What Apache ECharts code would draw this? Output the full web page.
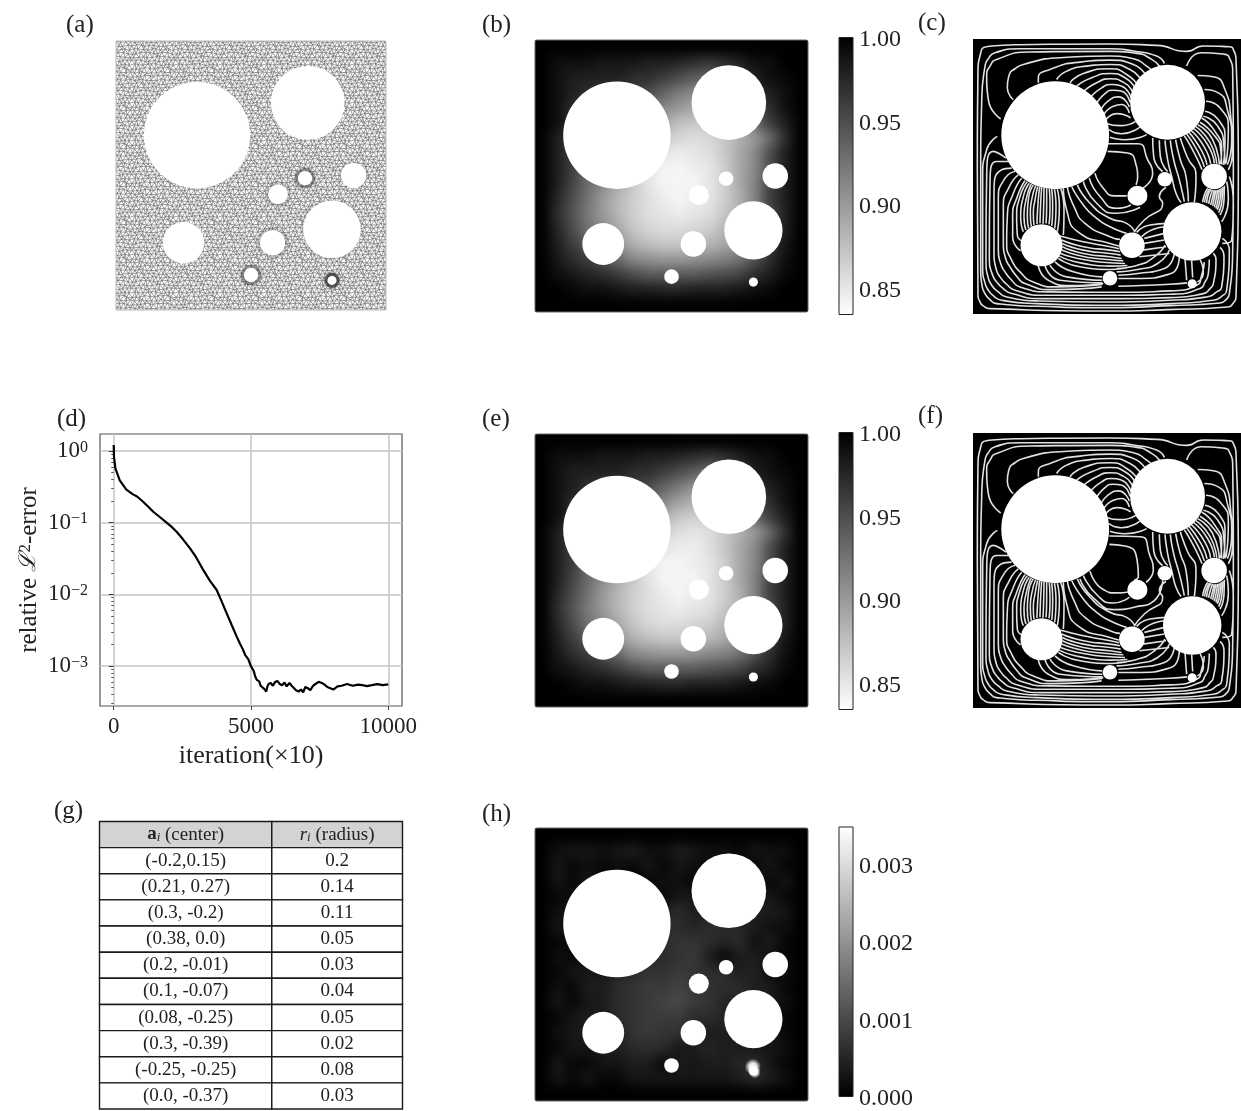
<!DOCTYPE html>
<html><head><meta charset="utf-8">
<style>html,body{margin:0;padding:0;background:#fff;overflow:hidden}#wrap{width:1241px;height:1111px;overflow:hidden;position:relative}#c{width:1270px;height:1111px}</style>
<script src="https://cdn.jsdelivr.net/npm/echarts@6/dist/echarts.min.js"></script>
</head><body><div id="wrap"><div id="c"></div></div>
<script>
// ---- data ----
const tableHeader = ['{b|a}{s|i} (center)', '{i|r}{s|i} (radius)'];
const tableCenters = ['(-0.2,0.15)','(0.21, 0.27)','(0.3, -0.2)','(0.38, 0.0)','(0.2, -0.01)','(0.1, -0.07)','(0.08, -0.25)','(0.3, -0.39)','(-0.25, -0.25)','(0.0, -0.37)'];
const tableRadii = ['0.2','0.14','0.11','0.05','0.03','0.04','0.05','0.02','0.08','0.03'];
const holeX = [-0.2,0.21,0.3,0.38,0.2,0.1,0.08,0.3,-0.25,0.0];
const holeY = [0.15,0.27,-0.2,0.0,-0.01,-0.07,-0.25,-0.39,-0.25,-0.37];
const holeR = [0.2,0.14,0.11,0.05,0.03,0.04,0.05,0.02,0.08,0.03];
const meshRing = [0,0,0.1,0.12,0.6,0.25,0.25,1,0,0.6];
const errIter = [0,10,60,220,460,700,850,1070,1250,1440,1700,1925,2100,2290,2500,2780,3000,3260,3500,3750,3900,4115,4300,4480,4600,4700,4790,4900,4995,5100,5150,5210,5300,5350,5400,5480,5555,5600,5640,5720,5800,5880,5960,6050,6130,6220,6300,6400,6480,6550,6640,6735,6820,6900,6980,7070,7160,7260,7370,7470,7580,7680,7780,7890,8000,8150,8300,8500,8700,8900,9050,9230,9400,9600,9800,10000];
const errVal = [1.21,.83,.57,.39,.29,.248,.232,.196,.168,.142,.118,.1,.088,.0748,.06,.0438,.033,.0219,.0155,.0115,.0085,.00543,.0037,.00257,.00205,.00172,.00142,.00125,.001,.00085,.00072,.00064,.00061,.00053,.000525,.00048,.00044,.00052,.00056,.00058,.00053,.0006,.00062,.00056,.00054,.00059,.00052,.00058,.00053,.00056,.00046,.00044,.00047,.00043,.00051,.00049,.00046,.00053,.00057,.0006,.00058,.00055,.00051,.00049,.00047,.00052,.00053,.00056,.00053,.00055,.00054,.000525,.00054,.00056,.00054,.000555];
const logTicks = [1,0.1,0.01,0.001];
const logMinorTicks = [2,3,4,5,6,7,8,9].map(m=>m/10).concat([.02,.03,.04,.05,.06,.07,.08,.09],[.002,.003,.004,.005,.006,.007,.008,.009],[.0003,.0004,.0005,.0006,.0007,.0008,.0009]);
const iterTicks = [0,5000,10000];
const barTicksU = [0.85,0.90,0.95,1.00];
const barTicksE = [0.000,0.001,0.002,0.003];
// u in hundredths, top row first
const fieldB = [
[100,100,100,100,100,100,100,100,100,100,100,100,100,100,100,100,100,100],
[100,99,99,99,98.5,98.5,98.5,98,98,97.5,97,96.5,97,98,99,99,100,100],
[100,99,98,98,98,98,97,97,96,95,94,93.5,95,96,98,99,99.5,100],
[100,99,98,97,96,96,96,95,93.5,92,91,91,91,93,97,98,99,100],
[100,99,97,96,95,94,94,93,91,90,89,89,90,92,95,97,99,100],
[100,99,97,95,94,92,92,91,89,87.5,87,87,87.5,90,93,96,98,100],
[100,98,96,94,92,91,89,88,87,86,85.5,86,87,88.5,90,93,97,100],
[100,98,96,94,91,90,88,86,85,84.5,85,85.5,87,89,91,95,98,100],
[100,98,96,93,91,89,87,85,84,84,84.5,85,86.5,89,91,95,98,100],
[100,98,95.5,93,91,89,87,85,84,84,84,85,86.5,89,91.5,95.5,98,100],
[100,97.5,95,92.5,90,88,86.5,85.5,84.5,84,84.5,85,86.5,88.5,91.5,96,98,100],
[100,97,94.5,92,90,88,86.5,85.5,85,84.5,85,85.5,87,88.5,91,95,98,100],
[100,97.5,95,92.5,91,89,87,86,85.5,85.5,86,86.5,88,89.5,92,95.5,98,100],
[100,98,96,94,92.5,90.5,88.5,87.5,87,87,87.5,88,89,90.5,93,96,98.5,100],
[100,98.5,97,96,94.5,93,91,90.5,90,90,90.5,91,91.5,92.5,94.5,97,99,100],
[100,99,98.5,97.5,97,96,95,94,94,94,94,94.5,95,95.5,97,98,99.5,100],
[100,100,99.5,99,99,98.5,98,98,97.5,97.5,98,98,98,98.5,99,99.5,100,100],
[100,100,100,100,100,100,100,100,100,100,100,100,100,100,100,100,100,100]];
const fieldE = [
[100,100,100,100,100,100,100,100,100,100,100,100,100,100,100,100,100,100],
[100,99,99,99,98.5,98.5,98.5,98,98,97.5,97,96.5,97,98,99,99,100,100],
[100,99,98,98,98,98,97,97,96,95,94,93,94.5,96,98,99,99.5,100],
[100,99,98,97,96,96,96,95,93.5,92,90.5,90.5,91,93,97,98,99,100],
[100,99,97,96,95,94,94,93,91,89.5,88.5,88.5,90,92,95,97,99,100],
[100,99,97,95,94,92,92,91,88.5,87,86.5,86.5,87.5,90,93,96,98,100],
[100,98,96,94,92,91,89,88,86.5,85.5,85,85.5,87,88.5,90,93,97,100],
[100,98,96,94,91,90,88,86,85,84.5,84.5,85.5,87,89,91,95,98,100],
[100,98,96,93,91,89,87,85,84,84,84.5,85,86.5,89,91,95,98,100],
[100,98,95.5,93,91,89,87,85,84,84,84,85,86.5,89,91.5,95.5,98,100],
[100,97.5,95,92.5,90,88,86.5,85.5,84.5,84,84.5,85,86.5,88.5,91.5,96,98,100],
[100,97,94.5,92,90,88,86.5,85.5,85,84.5,85,85.5,87,88.5,91,95,98,100],
[100,97.5,95,92.5,91,89,87,86,85.5,85.5,86,86.5,88,89.5,92,95.5,98,100],
[100,98,96,94,92.5,90.5,88.5,87.5,87,87,87.5,88,89,90.5,93,96,98.5,100],
[100,98.5,97,96,94.5,93,91,90.5,90,90,90.5,91,91.5,92.5,94.5,97,99,100],
[100,99,98.5,97.5,97,96,95,94,94,94,94,94.5,95,95.5,97,98,99.5,100],
[100,100,99.5,99,99,98.5,98,98,97.5,97.5,98,98,98,98.5,99,99.5,100,100],
[100,100,100,100,100,100,100,100,100,100,100,100,100,100,100,100,100,100]];
// pointwise error in 1e-4, top row first
const fieldH = [
[0,0,0,0,0,0,0,0,0,0,0,0,0,0,0,0,0,0],
[0,2,3,3,2,3,4,2,2,4,3,2,2,1,3,2,2,0],
[0,3,1,2,1,2,1,3,1,3,2,1,3,1,1,3,1,0],
[0,3,1,3,1,1,1,1,2,2,1,3,2,3,3,1,3,0],
[0,1,2,1,3,4,4,3,1,3,3,2,1,2,3,3,1,0],
[0,2,3,1,4,4,3,3,4,6,4,4,4,3,4,4,3,0],
[0,3,1,3,2,3,3,4,6,6,5,6,6,5,4,2,2,0],
[0,1,2,3,3,4,5,4,6,7,7,6,5,6,2,4,1,0],
[0,2,1,2,3,3,3,5,6,7,8,4,1,4,4,2,1,0],
[0,1,3,3,3,5,6,7,7,8,7,6,6,4,5,1,2,0],
[0,2,1,4,4,6,7,8,8,9,8,7,6,6,4,4,1,0],
[0,3,1,3,4,6,7,8,9,10,8,7,5,5,4,3,2,0],
[0,1,3,4,3,6,7,8,8,8,6,6,5,4,4,3,1,0],
[0,2,3,4,4,4,7,8,7,7,4,4,4,4,3,3,1,0],
[0,1,3,3,3,4,6,6,6,3,4,5,4,4,3,3,2,0],
[0,3,1,1,3,3,4,4,1,4,3,4,4,5,6,3,1,0],
[0,3,1,3,1,1,3,3,3,3,3,3,3,4,6,4,2,0],
[0,0,0,0,0,0,0,0,0,0,0,0,0,0,0,0,0,0]];
const errorPeaks = [[0.298,-0.375,0.03],[0.305,-0.395,0.022]];
// contour polylines (flat x,y lists on a 3x reading of the panel)
const contoursShared = [
[24,780,22,400,24,100,30,60,50,32,150,26,420,24,560,28,650,46,700,30,778,32,792,45,798,70,805,400,798,780,790,798,773,810,593,818,420,822,60,815,38,805,30,795,24,780],
[583,82,560,60,490,45,420,38,150,38,75,50,55,68,45,90,35,200,32,400,32,700,36,745,45,770,60,788,80,800,200,808,420,812,600,806,750,798,768,788,778,770,788,640,790,400,788,100,780,70,765,55,693,50,650,90],
[92,248,55,190,50,120,60,90,80,70,180,48,420,46,500,52,545,70,570,92],
[130,190,112,155,118,115,135,98,160,85,270,65,420,60,490,68,530,90,556,112],
[205,140,205,125,240,100,330,78,420,72,490,85,532,125],
[260,130,290,105,350,90,420,85,480,100,515,135],
[300,140,340,112,420,98,470,115,505,150],
[320,150,365,125,420,112,465,125,497,160],
[342,165,380,140,420,128,460,138,490,172],
[360,185,395,155,425,145,455,150,483,185],
[378,205,405,172,430,162,455,165,480,198],
[392,222,420,190,445,182,478,212],
[400,238,430,210,455,205,478,230],
[408,250,440,232,482,245],
[412,262,450,268,497,255],
[417,280,455,292,510,272],
[420,303,465,310,530,295],
[683,118,730,122,765,160,782,240,788,340,775,400],
[703,160,745,170,772,220,785,310,772,385],
[708,195,750,215,775,280,768,380],
[705,225,745,250,765,310,760,385],
[695,245,735,285,755,340,752,382],
[700,240,742,268,762,330,765,384],
[690,258,735,300,752,340,755,384],
[548,305,551,360,578,405],
[568,312,571,360,593,405],
[588,453,568,480,578,500,523,550,493,585],
[585,312,593,370,605,420,618,470,633,498],
[601,312,611,370,628,430,643,495],
[617,310,631,370,648,420,655,495],
[631,305,651,360,678,420,673,497],
[643,298,673,350,696,400],
[650,293,683,345,703,392],
[657,288,693,340,711,385],
[664,283,703,332,722,382],
[671,277,713,325,733,380],
[677,271,720,318,740,382],
[683,265,728,310,748,385],
[713,455,703,475,698,497],
[718,457,708,478,704,498],
[723,458,713,480,710,500],
[728,460,720,483,716,502],
[733,461,727,485,722,505],
[738,461,732,488,728,508],
[743,460,738,490,733,512],
[748,458,744,490,738,516],
[753,455,750,490,742,520],
[758,452,756,490,746,528],
[763,448,762,490,750,535],
[770,435,775,490,755,555],
[778,420,790,500,785,610,757,620],
[82,300,50,340,38,420,38,700,44,735,55,760,72,778,95,790,200,800,420,805,600,800,730,790,755,778,770,760,778,640,757,605],
[108,365,70,345,50,420,48,680,54,720,65,745,85,765,110,780,210,792,420,795,600,790,710,780,740,765,755,750,762,660,750,632],
[115,375,80,375,60,440,58,670,66,710,80,735,100,755,125,770,220,785,420,785,600,782,700,770,720,755,730,740,738,670,730,650],
[125,395,95,400,72,470,72,650,78,695,90,720,110,742,135,760,230,775,420,775,600,772,690,755,705,735,715,710,718,668],
[135,405,105,425,85,490,85,640,92,680,105,705,125,730,150,750,240,765,400,766,440,766,600,762,680,745,695,715,703,676],
[145,415,118,450,100,510,100,620,107,665,120,690,140,718,165,740,250,758,395,750],
[445,748,600,742,651,738],
[155,425,130,470,112,540,110,620,125,670,150,705,190,735,260,750,397,743],
[165,432,142,480,128,540,128,600,152,642],
[172,436,150,480,140,540,142,595,155,612],
[178,440,160,480,152,540,160,585],
[184,442,168,490,162,540,168,580],
[190,445,175,490,172,540,176,575],
[197,447,185,490,181,530,184,570],
[203,450,195,490,190,530,192,565],
[209,451,204,500,201,562],
[215,452,212,500,210,560],
[222,454,221,510,219,561],
[230,455,230,510,228,560],
[238,457,240,510,237,563],
[245,458,248,510,245,568],
[253,458,258,510,254,575],
[262,458,268,510,262,585],
[272,456,282,520,280,595],
[280,455,290,520,330,590,420,620,447,628],
[292,452,312,510,345,560,420,600,450,608],
[305,450,340,505,380,545,420,570,470,590],
[322,445,360,500,420,545,470,560,495,587],
[270,598,340,615,420,630,447,636],
[275,610,340,630,420,640,450,645],
[277,620,340,640,420,650,452,655],
[277,630,340,650,420,660,455,665],
[275,640,340,659,420,669,460,672],
[272,650,340,668,420,678,465,680],
[268,658,335,679,420,688,472,686],
[265,665,330,690,420,698,480,690],
[255,675,310,705,397,720],
[240,685,290,720,397,730],
[225,687,270,730,397,738],
[205,687,235,730,300,746,400,740],
[628,660,603,710,493,725,445,725],
[613,650,583,695,503,710,445,715],
[598,640,563,680,503,698,440,705],
[585,625,553,660,503,685,440,695],
[523,605,583,590],[523,620,583,610],[518,640,588,630],[508,660,598,650],
[500,587,540,565,590,560],[515,600,550,578,585,570],
[690,668,700,710,682,735],[665,672,668,722],[645,665,650,730]
];
const contoursC = [
[413,345,473,350,498,385,503,420,498,445],
[413,322,503,322,533,370,548,410,518,455],
[375,410,400,455,435,478,470,478],
[358,425,390,480,440,515,483,505],
[340,435,380,500,440,530,510,512]
];
const contoursF = [
[418,345,465,350,500,385,505,440,492,452],
[418,320,510,322,540,380,550,420,528,458],
[360,425,400,480,440,490,475,487],
[340,438,385,500,430,520,478,503],
[330,448,370,505,440,540,495,532,550,515,578,452]
];
const panelLabels = [['(a)',66,26],['(b)',482,26],['(c)',918,24],['(d)',57,420],['(e)',482,420],['(f)',918,417],['(g)',54,812],['(h)',482,815]];

// ---- helpers ----
const SERIF = '"Liberation Serif","DejaVu Serif",serif';
const INK = '#222';
const holes = holeX.map((x,i)=>[x,holeY[i],holeR[i],meshRing[i]]);
const grids=[],xAxes=[],yAxes=[],series=[],visualMaps=[];
function addGrid(rect,x,y,extra){
  const i=grids.length;
  grids.push(Object.assign({left:rect[0],top:rect[1],width:rect[2],height:rect[3],containLabel:false},extra||{}));
  xAxes.push(Object.assign({gridIndex:i},x));
  yAxes.push(Object.assign({gridIndex:i},y));
  return i;
}
const HID={show:false};
function domainGrid(rect){
  const ax={type:'value',min:-0.5,max:0.5,show:false,splitLine:HID};
  return addGrid(rect,ax,ax);
}
function holeSeries(g,z){
  series.push({type:'custom',coordinateSystem:'cartesian2d',xAxisIndex:g,yAxisIndex:g,data:holes,z:z||5,silent:true,
    renderItem:(p,api)=>{
      const c=api.coord([api.value(0),api.value(1)]),r=api.size([api.value(2),0])[0]-0.9;
      return {type:'circle',shape:{cx:c[0],cy:c[1],r:r},style:{fill:'#fff'}};
    }});
}
function fieldPanel(rect,rows,scale,vmin,vmax,colors){
  const idx=rows.map((_,i)=>String(i));
  const cat={type:'category',data:idx,show:false,splitLine:HID};
  const hg=addGrid(rect,cat,Object.assign({},cat,{inverse:true}));
  const vg=domainGrid(rect);
  series.push({type:'custom',coordinateSystem:'cartesian2d',xAxisIndex:vg,yAxisIndex:vg,zlevel:-1,z:0,silent:true,data:[[-0.56,0.56,0.56,-0.56]],
    renderItem:(p,api)=>{
      const a=api.coord([api.value(0),api.value(1)]),b=api.coord([api.value(2),api.value(3)]);
      return {type:'rect',shape:{x:a[0],y:a[1],width:b[0]-a[0],height:b[1]-a[1]},style:{fill:'#000'}};
    }});
  const data=[];
  rows.forEach((r,j)=>r.forEach((v,i)=>data.push([i,j,v*scale])));
  visualMaps.push({show:false,min:vmin,max:vmax,dimension:2,seriesIndex:series.length,inRange:{color:colors}});
  series.push({type:'heatmap',coordinateSystem:'cartesian2d',xAxisIndex:hg,yAxisIndex:hg,data:data,zlevel:-1,z:1,silent:true,progressive:0,emphasis:{disabled:true},itemStyle:{borderWidth:0}});
  return vg;
}
function frame(g){
  series.push({type:'custom',coordinateSystem:'cartesian2d',xAxisIndex:g,yAxisIndex:g,z:6,silent:true,data:[[-0.5,0.5,0.5,-0.5]],
    renderItem:(p,api)=>{
      const a=api.coord([api.value(0),api.value(1)]),b=api.coord([api.value(2),api.value(3)]);
      return {type:'rect',shape:{x:a[0],y:a[1],width:b[0]-a[0],height:b[1]-a[1],r:2},style:{fill:'none',stroke:'#666',lineWidth:1}};
    }});
}
function colorBar(rect,lo,hi,ticks,dec,topColor,botColor){
  const g=addGrid(rect,{type:'value',min:0,max:1,show:false,splitLine:HID},{
    type:'value',min:lo,max:hi,position:'right',splitLine:HID,axisLine:HID,
    axisTick:{show:true,length:5,inside:false,customValues:ticks,lineStyle:{color:'#333',width:1}},
    axisLabel:{show:true,customValues:ticks,margin:6,verticalAlign:'top',lineHeight:5,fontFamily:SERIF,fontSize:24,color:INK,formatter:v=>Number(v).toFixed(dec),showMinLabel:true,showMaxLabel:true}});
  series.push({type:'custom',coordinateSystem:'cartesian2d',xAxisIndex:g,yAxisIndex:g,silent:true,data:[[0,hi,1,lo]],
    renderItem:(p,api)=>{
      const a=api.coord([api.value(0),api.value(1)]),b=api.coord([api.value(2),api.value(3)]);
      return {type:'rect',shape:{x:a[0],y:a[1],width:b[0]-a[0],height:b[1]-a[1]},
        style:{fill:{type:'linear',x:0,y:0,x2:0,y2:1,colorStops:[{offset:0,color:topColor},{offset:1,color:botColor}]},stroke:'#222',lineWidth:1}};
    }});
}
function contourPanel(rect,lines){
  const g=domainGrid(rect);
  grids[g].show=true;grids[g].backgroundColor='#000';grids[g].borderWidth=0;
  const data=[];
  lines.forEach(l=>{
    const cyl=l.cy===undefined?420:l.cy;
    for(let i=0;i<l.length;i+=2)data.push([(l[i]-420)/822,(cyl-l[i+1])/822]);
    data.push([NaN,NaN]);
  });
  series.push({type:'line',xAxisIndex:g,yAxisIndex:g,data:data,showSymbol:false,symbol:'none',smooth:0.6,connectNulls:false,silent:true,z:3,
    lineStyle:{color:'#e2e2e2',width:1.6},sampling:null});
  holeSeries(g,5);
}
// mesh texture: a small tile of slightly uneven triangles
const meshNudge=[.7,-.6,-.9,.4,.3,1,-.5,-.8,1,.2,-.3,.7,.6,-1,-.8,-.2,.4,.8,-.9,.9,.9,-.4,-.5,-.6];
function meshTile(){
  const cv=document.createElement('canvas');cv.width=44;cv.height=38;
  const x=cv.getContext('2d');x.fillStyle='#fff';x.fillRect(0,0,44,38);
  x.filter='blur(0.35px)';
  x.strokeStyle='#707070';x.lineWidth=0.7;
  const nx=10,ny=10,sx=4.4,sy=3.8;
  const P=(i,j)=>{
    const wi=((i%nx)+nx)%nx,wj=((j%ny)+ny)%ny,k=(wi*5+wj*11)%meshNudge.length,k2=(wi*7+wj*3+5)%meshNudge.length;
    return [i*sx+(((j%2)+2)%2)*sx/2+meshNudge[k],j*sy+meshNudge[k2]];
  };
  for(let oy=-1;oy<=1;oy++)for(let ox=-1;ox<=1;ox++)for(let j=0;j<ny;j++)for(let i=0;i<nx;i++){
    const a=P(i,j),odd=j%2;
    const ns=[P(i+1,j),P(i+(odd?1:0),j+1),P(i+(odd?0:-1),j+1)];
    ns.forEach(b=>{x.beginPath();x.moveTo(a[0]+ox*44,a[1]+oy*38);x.lineTo(b[0]+ox*44,b[1]+oy*38);x.stroke();});
  }
  return cv;
}
// ---- panel (a) ----
{
  const g=domainGrid([116,41,270,269]);
  const tile=meshTile();
  series.push({type:'custom',coordinateSystem:'cartesian2d',xAxisIndex:g,yAxisIndex:g,silent:true,z:1,data:[[-0.5,0.5,0.5,-0.5]],
    renderItem:(p,api)=>{
      const a=api.coord([api.value(0),api.value(1)]),b=api.coord([api.value(2),api.value(3)]);
      return {type:'rect',shape:{x:a[0],y:a[1],width:b[0]-a[0],height:b[1]-a[1]},style:{fill:{image:tile,repeat:'repeat'},stroke:'#bbb',lineWidth:1}};
    }});
  series.push({type:'custom',coordinateSystem:'cartesian2d',xAxisIndex:g,yAxisIndex:g,silent:true,z:2,data:holes,
    renderItem:(p,api)=>{
      const c=api.coord([api.value(0),api.value(1)]),r=api.size([api.value(2),0])[0],d=api.value(3);
      return {type:'circle',shape:{cx:c[0],cy:c[1],r:r+0.5},style:{fill:'none',stroke:'rgba(50,50,50,'+(d*0.7)+')',lineWidth:3.5,shadowBlur:4,shadowColor:'rgba(50,50,50,'+(d*0.7)+')'}};
    }});
  holeSeries(g,5);
}
// ---- field panels and bars ----
{
  const b=fieldPanel([535,40,273,272],fieldB,0.01,0.834,1,['#ffffff','#000000']);holeSeries(b);frame(b);
  const e=fieldPanel([535,434,273,273],fieldE,0.01,0.834,1,['#ffffff','#000000']);holeSeries(e);frame(e);
  const h=fieldPanel([535,828,273,273],fieldH,1e-4,0,0.0035,['#000000','#ffffff']);
  series.push({type:'custom',coordinateSystem:'cartesian2d',xAxisIndex:h,yAxisIndex:h,silent:true,z:4,data:errorPeaks,
    renderItem:(p,api)=>{
      const c=api.coord([api.value(0),api.value(1)]),r=api.size([api.value(2),0])[0];
      return {type:'circle',shape:{cx:c[0],cy:c[1],r:r},style:{fill:{type:'radial',x:.5,y:.5,r:.5,colorStops:[{offset:0,color:'rgba(255,255,255,1)'},{offset:.45,color:'rgba(255,255,255,.9)'},{offset:1,color:'rgba(255,255,255,0)'}]}}};
    }});
  holeSeries(h);frame(h);
  colorBar([839,37.5,14,277],0.834,1,barTicksU,2,'#000000','#ffffff');
  colorBar([839,432.5,14,277],0.834,1,barTicksU,2,'#000000','#ffffff');
  colorBar([839,827,14,276],0,0.00348,barTicksE,3,'#ffffff','#000000');
}
// ---- contour panels ----
contoursF.forEach(l=>l.cy=423);
contourPanel([973,39,274,275],contoursShared.concat(contoursC));
contourPanel([973,433,274,275],contoursShared.concat(contoursF));
// ---- panel (d) ----
{
  const s={fontSize:16,verticalAlign:'top',fontFamily:SERIF,color:INK};
  const gi=addGrid([100,434,302,272],{
    type:'value',min:-500,max:10500,name:'iteration(×10)',nameLocation:'middle',nameGap:37,
    nameTextStyle:{fontFamily:SERIF,fontSize:26,color:INK},
    axisLine:HID,axisTick:{show:true,length:4,customValues:iterTicks,lineStyle:{color:'#444'}},
    axisLabel:{customValues:iterTicks,fontFamily:SERIF,fontSize:23,color:INK,margin:9,formatter:v=>String(v)},
    splitLine:{show:true,lineStyle:{color:'#c4c4c4',width:1.5}}
  },{
    type:'log',logBase:10,min:Math.pow(10,-3.558),max:Math.pow(10,0.237),
    name:'relative {l|ℒ}{u|2}-error',nameLocation:'middle',nameGap:58,
    nameTextStyle:{fontFamily:SERIF,fontSize:25,color:INK,rich:{l:{fontFamily:'"DejaVu Serif",serif',fontSize:23,fontStyle:'italic',color:INK},u:{fontFamily:SERIF,fontSize:17,verticalAlign:'top',color:INK}}},
    axisLine:HID,axisTick:{show:true,length:5,customValues:logTicks,lineStyle:{color:'#444'}},
    axisLabel:{customValues:logTicks,fontFamily:SERIF,fontSize:23,color:INK,margin:12,rich:{s:s},
      formatter:v=>{const p=Math.round(Math.log10(v));return '10{s|'+(p<0?'−'+(-p):p)+'}';}},
    splitLine:{show:true,lineStyle:{color:'#c4c4c4',width:1.5}}
  },{show:true,borderColor:'#555',borderWidth:1.2,backgroundColor:'transparent'});
  series.push({type:'line',xAxisIndex:gi,yAxisIndex:gi,data:errIter.map((x,i)=>[x,errVal[i]]),showSymbol:false,symbol:'none',silent:true,z:4,lineStyle:{color:'#000',width:2.2}});
  const gm=addGrid([100,434,302,272],{type:'value',min:-500,max:10500,show:false,splitLine:HID},{
    type:'log',logBase:10,min:Math.pow(10,-3.558),max:Math.pow(10,0.237),
    axisLine:HID,splitLine:HID,axisLabel:{show:false},axisTick:{show:true,length:2.5,customValues:logMinorTicks,lineStyle:{color:'#555'}}});
  series.push({type:'line',xAxisIndex:gm,yAxisIndex:gm,data:[],silent:true});
}
// ---- table (g) ----
{
  const colEdges=[0,0.5686,1];
  const rows=[tableHeader].concat(tableCenters.map((c,i)=>[c,tableRadii[i]]));
  const g=addGrid([99.5,821.5,303,287.5],{type:'value',min:0,max:1,show:false,splitLine:HID},{type:'value',min:0,max:rows.length,inverse:true,show:false,splitLine:HID});
  const data=[];
  rows.forEach((r,j)=>r.forEach((t,i)=>data.push([i,j,t])));
  const small={fontFamily:SERIF,fontSize:13,verticalAlign:'bottom',color:INK,fontStyle:'italic'};
  series.push({type:'custom',coordinateSystem:'cartesian2d',xAxisIndex:g,yAxisIndex:g,silent:true,
    encode:{x:0,y:1},dimensions:['col','row','text'],data:data,
    renderItem:(p,api)=>{
      const i=api.value(0),j=api.value(1),t=data[p.dataIndex][2];
      const a=api.coord([colEdges[i],j]),b=api.coord([colEdges[i+1],j+1]);
      return {type:'group',children:[
        {type:'rect',shape:{x:a[0],y:a[1],width:b[0]-a[0],height:b[1]-a[1]},style:{fill:j===0?'#d3d3d3':'#fff',stroke:'#1a1a1a',lineWidth:1.4}},
        {type:'text',x:(a[0]+b[0])/2,y:(a[1]+b[1])/2,style:{text:t,fontFamily:SERIF,fontSize:19,fill:INK,align:'center',verticalAlign:'middle',
          rich:{b:{fontFamily:SERIF,fontSize:19,fontWeight:'bold',color:INK},i:{fontFamily:SERIF,fontSize:19,fontStyle:'italic',color:INK},s:small}}}
      ]};
    }});
}
const chart=echarts.init(document.getElementById('c'),null,{renderer:'canvas',width:1270,height:1111});
chart.setOption({
  animation:false,
  grid:grids,xAxis:xAxes,yAxis:yAxes,series:series,visualMap:visualMaps,
  graphic:panelLabels.map(l=>({type:'text',left:l[1],top:l[2]-13,silent:true,style:{text:l[0],fontFamily:SERIF,fontSize:25,fill:INK}}))
});
function soften(){
  const layer=chart.getZr().painter.getLayer(-1);
  if(!layer||!layer.dom)return;
  layer.dom.style.filter='blur(6px)';
  layer.dom.style.clipPath="path('M535 40H808V312H535Z M535 434H808V707H535Z M535 828H808V1101H535Z')";
}
soften();
chart.on('finished',soften);
</script></body></html>
